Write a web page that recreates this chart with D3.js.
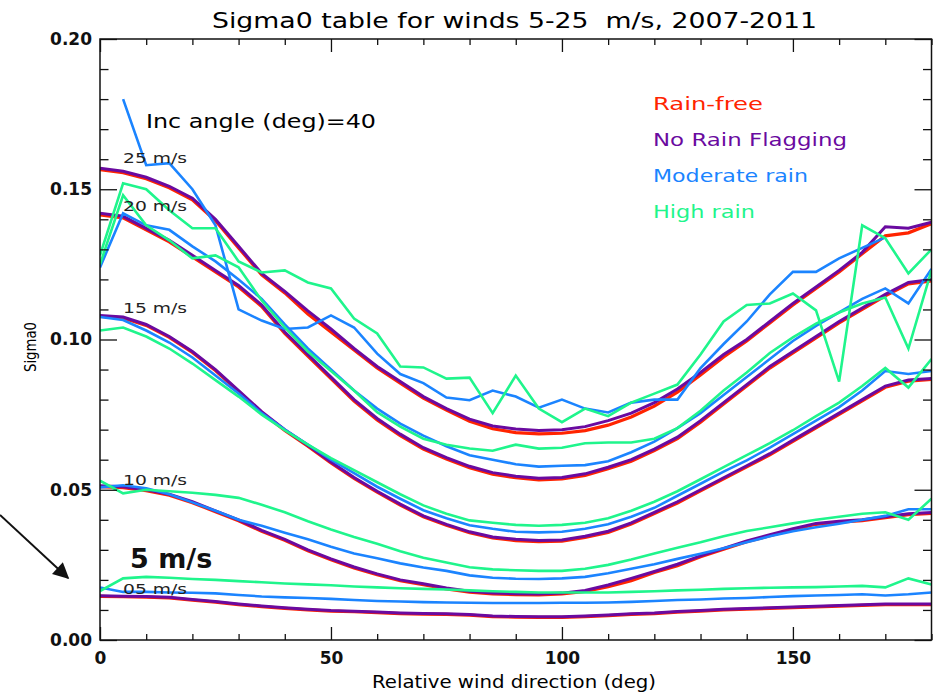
<!DOCTYPE html>
<html>
<head>
<meta charset="utf-8">
<script src="https://cdn.jsdelivr.net/npm/d3@7"></script>
<style>
  body { margin: 0; background: #fff; }
  text { font-family: "DejaVu Sans", sans-serif; }
</style>
</head>
<body>
<div id="chart"></div>
<script>
// relative wind direction (deg), sampled every 5 deg
var angles = [0,5,10,15,20,25,30,35,40,45,50,55,60,65,70,75,80,85,90,95,100,105,110,115,120,125,130,135,140,145,150,155,160,165,170,175,180];

// sigma0 at inc angle 40 -- one array per wind speed and rain class
var rf25  = [0.1565,0.1555,0.1535,0.1505,0.1465,0.1395,0.1305,0.1215,0.1155,0.1085,0.1025,0.0965,0.0905,0.0855,0.0805,0.0765,0.0728,0.0703,0.0690,0.0686,0.0688,0.0697,0.0715,0.0742,0.0778,0.0825,0.0882,0.0942,0.0995,0.1055,0.1115,0.1170,0.1225,0.1285,0.1345,0.1355,0.1385];
var nrf25 = [0.157,0.156,0.154,0.151,0.147,0.140,0.131,0.122,0.116,0.1095,0.1035,0.097,0.091,0.086,0.081,0.077,0.0735,0.0712,0.0702,0.0697,0.0700,0.0710,0.0730,0.0755,0.0790,0.0835,0.0890,0.0950,0.1000,0.1060,0.1120,0.1175,0.1230,0.1290,0.1375,0.1370,0.1390];
var mod25 = [null,0.180,0.158,0.1587,0.150,0.138,0.110,0.1063,0.1035,0.104,0.108,0.104,0.0953,0.0885,0.0855,0.0807,0.0798,0.083,0.081,0.0773,0.080,0.077,0.0757,0.079,0.080,0.080,0.0905,0.0985,0.106,0.115,0.1225,0.1225,0.127,0.1305,0.134,null,null];
var hi25  = [0.128,0.152,0.150,0.143,0.137,0.137,0.126,0.1223,0.123,0.119,0.117,0.107,0.102,0.091,0.0907,0.087,0.0873,0.0755,0.088,0.077,0.0725,0.077,0.0745,0.079,0.082,0.085,0.095,0.106,0.1115,0.112,0.1153,0.1097,0.086,0.138,0.1337,0.122,0.130];

var rf20  = [0.1415,0.1405,0.1365,0.1325,0.1275,0.1225,0.1175,0.1110,0.1020,0.0945,0.0870,0.0795,0.0732,0.0680,0.0635,0.0602,0.0573,0.0552,0.0540,0.0533,0.0536,0.0548,0.0570,0.0595,0.0630,0.0670,0.0725,0.0785,0.0845,0.0905,0.0955,0.1005,0.1055,0.1100,0.1145,0.1185,0.1195];
var nrf20 = [0.142,0.141,0.137,0.133,0.128,0.123,0.118,0.1115,0.1025,0.095,0.0875,0.080,0.0737,0.0685,0.064,0.0607,0.0578,0.0557,0.0545,0.0538,0.0541,0.0553,0.0575,0.0600,0.0635,0.0675,0.0730,0.0790,0.0850,0.0910,0.0960,0.1010,0.1060,0.1105,0.1150,0.1190,0.1200];
var mod20 = [0.124,0.142,0.138,0.1365,0.131,0.126,0.120,0.1135,0.105,0.097,0.090,0.083,0.077,0.072,0.068,0.0645,0.0615,0.060,0.0585,0.0577,0.058,0.0582,0.0595,0.0625,0.066,0.0705,0.0755,0.0815,0.0875,0.0935,0.0995,0.1045,0.109,0.1135,0.117,0.112,0.1235];
var hi20  = [0.125,0.148,0.138,0.133,0.127,0.128,0.124,0.113,0.104,0.096,0.0895,0.083,0.0758,0.071,0.067,0.065,0.0637,0.063,0.065,0.0637,0.064,0.0655,0.0657,0.0657,0.067,0.0705,0.0763,0.083,0.089,0.0955,0.1007,0.1053,0.109,0.112,0.114,0.097,0.123];

var rf15  = [0.1077,0.1072,0.1047,0.1007,0.0957,0.0897,0.0827,0.0757,0.0697,0.0645,0.0589,0.0538,0.0492,0.0449,0.0410,0.0382,0.0357,0.0340,0.0331,0.0327,0.0329,0.0341,0.0358,0.0386,0.0421,0.0456,0.0496,0.0536,0.0576,0.0616,0.0661,0.0706,0.0751,0.0796,0.0841,0.0861,0.0867];
var nrf15 = [0.108,0.1075,0.105,0.101,0.096,0.090,0.083,0.076,0.070,0.0648,0.0592,0.0541,0.0495,0.0452,0.0413,0.0385,0.036,0.0343,0.0335,0.0331,0.0333,0.0345,0.0362,0.039,0.0425,0.046,0.050,0.054,0.058,0.062,0.0665,0.071,0.0755,0.080,0.0845,0.0865,0.087];
var mod15 = [0.1075,0.1065,0.103,0.099,0.094,0.088,0.082,0.0755,0.070,0.065,0.060,0.0555,0.051,0.047,0.0432,0.0405,0.0382,0.037,0.036,0.0358,0.036,0.037,0.0385,0.041,0.044,0.048,0.052,0.056,0.0598,0.064,0.0685,0.073,0.0775,0.083,0.0895,0.0885,0.0895];
var hi15  = [0.103,0.104,0.101,0.097,0.092,0.0865,0.081,0.075,0.0698,0.065,0.0605,0.0565,0.0525,0.0485,0.0448,0.042,0.0398,0.039,0.0383,0.038,0.0383,0.039,0.0405,0.043,0.046,0.0495,0.0535,0.0575,0.0615,0.0655,0.0698,0.0745,0.079,0.0845,0.0905,0.084,0.0935];

var rf10  = [0.0510,0.0507,0.0497,0.0482,0.0457,0.0427,0.0397,0.0362,0.0332,0.0297,0.0267,0.0240,0.0217,0.0197,0.0184,0.0170,0.0159,0.0153,0.0151,0.0150,0.0153,0.0162,0.0177,0.0197,0.0225,0.0247,0.0277,0.0302,0.0327,0.0347,0.0367,0.0385,0.0392,0.0397,0.0407,0.0417,0.0421];
var nrf10 = [0.0513,0.051,0.050,0.0485,0.046,0.043,0.040,0.0365,0.0335,0.030,0.027,0.0243,0.022,0.020,0.0187,0.0173,0.0162,0.0156,0.0154,0.0153,0.0156,0.0165,0.0183,0.0205,0.0228,0.0252,0.028,0.0305,0.033,0.035,0.037,0.0388,0.0395,0.040,0.041,0.042,0.0424];
var mod10 = [0.0508,0.0515,0.0505,0.0485,0.0458,0.043,0.040,0.038,0.0357,0.0335,0.031,0.0288,0.0272,0.0255,0.0241,0.023,0.0215,0.0207,0.0204,0.0203,0.0205,0.021,0.0222,0.0237,0.0252,0.027,0.0287,0.0305,0.0325,0.0345,0.0362,0.0375,0.0387,0.040,0.0413,0.0435,0.0435];
var hi10  = [0.053,0.0488,0.050,0.0495,0.049,0.0483,0.0473,0.045,0.0425,0.0395,0.0368,0.0343,0.032,0.0295,0.0274,0.0258,0.0242,0.0235,0.0232,0.023,0.023,0.0237,0.025,0.0268,0.0288,0.0307,0.0325,0.0345,0.0363,0.0375,0.0388,0.040,0.041,0.042,0.0425,0.040,0.047];

var rf5   = [0.0145,0.0144,0.0143,0.0140,0.0133,0.0126,0.0118,0.0111,0.0105,0.0100,0.0096,0.0094,0.0091,0.0088,0.0086,0.0085,0.0083,0.0078,0.0076,0.0075,0.0075,0.0078,0.0081,0.0085,0.0088,0.0093,0.0096,0.0100,0.0103,0.0105,0.0108,0.0110,0.0113,0.0115,0.0118,0.0118,0.0118];
var nrf5  = [0.0147,0.0146,0.0145,0.0142,0.0135,0.0128,0.012,0.0113,0.0107,0.0102,0.0098,0.0096,0.0093,0.009,0.0088,0.0087,0.0085,0.008,0.0078,0.0077,0.0077,0.008,0.0083,0.0087,0.009,0.0095,0.0098,0.0102,0.0105,0.0107,0.011,0.0112,0.0115,0.0117,0.012,0.012,0.012];
var mod5  = [0.0175,0.016,0.016,0.0158,0.0157,0.0155,0.015,0.0145,0.0142,0.014,0.0137,0.0133,0.013,0.0128,0.0126,0.0125,0.0124,0.0123,0.0123,0.0123,0.0124,0.0124,0.0125,0.0127,0.013,0.0133,0.0135,0.0138,0.014,0.0143,0.0146,0.0148,0.015,0.0152,0.0148,0.0152,0.0158];
var hi5   = [0.0163,0.0205,0.021,0.0207,0.0203,0.02,0.0196,0.0192,0.0188,0.0185,0.0182,0.0178,0.0175,0.0172,0.017,0.0168,0.0165,0.0162,0.016,0.0158,0.0158,0.0158,0.0158,0.016,0.0162,0.0165,0.0167,0.017,0.0172,0.0174,0.0175,0.0176,0.0178,0.018,0.0175,0.0205,0.0185];

var classNames  = ["Rain-free", "No Rain Flagging", "Moderate rain", "High rain"];
var classColors = ["#ff2400", "#6a0aa0", "#1b84ff", "#1ff58c"];
var windLabels  = ["25 m/s", "20 m/s", "15 m/s", "10 m/s", "05 m/s"];
var windLabelY  = [0.158, 0.142, 0.108, 0.051, 0.0145];
var xMajor = [0, 50, 100, 150];
var yMajor = [0, 0.05, 0.10, 0.15, 0.20];

// series grouped by rain class, drawn in that order (red under purple, green on top)
var byClass = [
  [rf25, rf20, rf15, rf10, rf5],
  [nrf25, nrf20, nrf15, nrf10, nrf5],
  [mod25, mod20, mod15, mod10, mod5],
  [hi25, hi20, hi15, hi10, hi5]
];
var classWidth = [3.2, 3, 2.6, 2.6];

var w = 938, h = 694;
var plot = {left: 100, right: 931.5, top: 39, bottom: 640};

var svg = d3.select("#chart").append("svg")
    .attr("width", w)
    .attr("height", h)
    .attr("viewBox", `0 0 ${w} ${h}`);

var x = d3.scaleLinear().domain([0, 180]).range([plot.left, plot.right]);
var y = d3.scaleLinear().domain([0, 0.2]).range([plot.bottom, plot.top]);

svg.append("clipPath").attr("id", "plotclip")
  .append("rect")
    .attr("x", plot.left).attr("y", plot.top)
    .attr("width", plot.right - plot.left)
    .attr("height", plot.bottom - plot.top);

var line = d3.line()
    .defined(d => d[1] != null)
    .x(d => x(d[0]))
    .y(d => y(d[1]));

var lines = svg.append("g").attr("clip-path", "url(#plotclip)");
byClass.forEach(function(group, ci){
    group.forEach(function(vals){
        lines.append("path")
            .datum(angles.map((a, i) => [a, vals[i]]))
            .attr("d", line)
            .attr("fill", "none")
            .attr("stroke", classColors[ci])
            .attr("stroke-width", classWidth[ci])
            .attr("stroke-linejoin", "miter");
    });
});

// axes: major + minor ticks on all four sides, ticks pointing in
var xMinor = d3.range(0, 181, 10).filter(v => xMajor.indexOf(v) < 0);
var yMinor = d3.range(0, 21).map(v => v / 100).filter(v => v % 0.05 > 0.001 && v % 0.05 < 0.049);

function styleAxis(g){
    g.select(".domain").remove();
    g.selectAll("line").attr("stroke", "#111").attr("stroke-width", 1.3);
}

svg.append("g").attr("transform", `translate(0,${plot.bottom})`)
    .call(d3.axisBottom(x).tickValues(xMajor).tickSize(-13).tickPadding(12).tickFormat(d3.format("d")))
    .call(styleAxis)
    .call(g => g.selectAll("text").attr("font-size", 17).attr("font-weight", "bold").attr("fill", "#111")
                .attr("font-family", "DejaVu Sans"));
svg.append("g").attr("transform", `translate(0,${plot.bottom})`)
    .call(d3.axisBottom(x).tickValues(xMinor).tickSize(-6).tickFormat(""))
    .call(styleAxis);
svg.append("g").attr("transform", `translate(0,${plot.top})`)
    .call(d3.axisTop(x).tickValues(xMajor).tickSize(-13).tickFormat(""))
    .call(styleAxis);
svg.append("g").attr("transform", `translate(0,${plot.top})`)
    .call(d3.axisTop(x).tickValues(xMinor).tickSize(-6).tickFormat(""))
    .call(styleAxis);

svg.append("g").attr("transform", `translate(${plot.left},0)`)
    .call(d3.axisLeft(y).tickValues(yMajor).tickSize(-17).tickPadding(8).tickFormat(d3.format(".2f")))
    .call(styleAxis)
    .call(g => g.selectAll("text").attr("font-size", 17).attr("font-weight", "bold").attr("fill", "#111")
                .attr("font-family", "DejaVu Sans"));
svg.append("g").attr("transform", `translate(${plot.left},0)`)
    .call(d3.axisLeft(y).tickValues(yMinor).tickSize(-8.5).tickFormat(""))
    .call(styleAxis);
svg.append("g").attr("transform", `translate(${plot.right},0)`)
    .call(d3.axisRight(y).tickValues(yMajor).tickSize(-17).tickFormat(""))
    .call(styleAxis);
svg.append("g").attr("transform", `translate(${plot.right},0)`)
    .call(d3.axisRight(y).tickValues(yMinor).tickSize(-8.5).tickFormat(""))
    .call(styleAxis);

svg.append("rect")
    .attr("x", plot.left).attr("y", plot.top)
    .attr("width", plot.right - plot.left)
    .attr("height", plot.bottom - plot.top)
    .attr("fill", "none").attr("stroke", "#111").attr("stroke-width", 1.5);

// titles
svg.append("text")
    .attr("x", 212).attr("y", 28)
    .attr("font-size", 21)
    .attr("textLength", 605).attr("lengthAdjust", "spacingAndGlyphs")
    .style("white-space", "pre")
    .text("Sigma0 table for winds 5-25  m/s, 2007-2011");

svg.append("text")
    .attr("x", 372).attr("y", 688)
    .attr("font-size", 18)
    .attr("textLength", 284).attr("lengthAdjust", "spacingAndGlyphs")
    .text("Relative wind direction (deg)");

svg.append("text")
    .attr("transform", "translate(36,372) rotate(-90)")
    .attr("font-size", 15)
    .attr("textLength", 50).attr("lengthAdjust", "spacingAndGlyphs")
    .text("Sigma0");

svg.append("text")
    .attr("x", 146).attr("y", 128)
    .attr("font-size", 19)
    .attr("textLength", 230).attr("lengthAdjust", "spacingAndGlyphs")
    .text("Inc angle (deg)=40");

// legend
var legendWidths = [110, 194, 155, 102];
svg.append("g").selectAll("text")
    .data(classNames)
    .enter()
    .append("text")
        .attr("x", 653)
        .attr("y", (d, i) => 110 + i * 36)
        .attr("font-size", 18)
        .attr("fill", (d, i) => classColors[i])
        .attr("textLength", (d, i) => legendWidths[i])
        .attr("lengthAdjust", "spacingAndGlyphs")
        .text(d => d);

// wind speed labels at the left edge of each curve family
svg.append("g").selectAll("text")
    .data(windLabels)
    .enter()
    .append("text")
        .attr("x", 123)
        .attr("y", (d, i) => y(windLabelY[i]) - 2 + (i == 4 ? 0 : 0))
        .attr("font-size", 14)
        .attr("fill", "#222")
        .attr("textLength", 64)
        .attr("lengthAdjust", "spacingAndGlyphs")
        .text(d => d);

// "5 m/s" callout with arrow
svg.append("text")
    .attr("x", 130).attr("y", 568)
    .attr("font-family", "Lato, 'Open Sans', sans-serif")
    .attr("font-weight", "bold")
    .attr("font-size", 27)
    .attr("fill", "#111")
    .text("5 m/s");

svg.append("defs").append("marker")
    .attr("id", "arrowhead")
    .attr("viewBox", "0 0 10 10")
    .attr("refX", 9).attr("refY", 5)
    .attr("markerWidth", 8).attr("markerHeight", 8)
    .attr("markerUnits", "userSpaceOnUse")
    .attr("orient", "auto")
  .append("path")
    .attr("d", "M0,0 L10,5 L0,10 Z")
    .attr("fill", "#111");
svg.select("#arrowhead").attr("markerWidth", 20).attr("markerHeight", 16);

svg.append("line")
    .attr("x1", 0).attr("y1", 515)
    .attr("x2", 68).attr("y2", 578)
    .attr("stroke", "#111").attr("stroke-width", 2)
    .attr("marker-end", "url(#arrowhead)");
</script>
</body>
</html>
